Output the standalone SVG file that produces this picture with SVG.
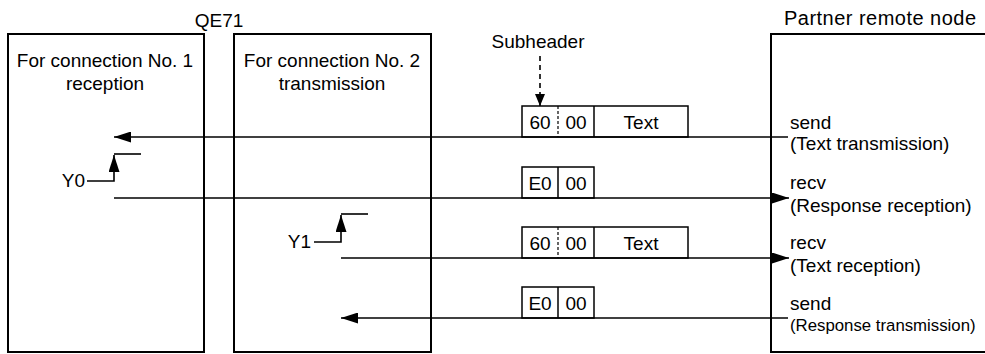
<svg xmlns="http://www.w3.org/2000/svg" width="985" height="354" viewBox="0 0 985 354">
<style>
text{font-family:"Liberation Sans",Arial,sans-serif;font-size:19px;fill:#000}
.c{text-anchor:middle}
.box{fill:none;stroke:#000;stroke-width:2}
.pk{fill:none;stroke:#000;stroke-width:1.5}
.ln{fill:none;stroke:#000;stroke-width:1.6}
.dv{stroke:#000;stroke-width:1.2;stroke-dasharray:3,2}
</style>
<defs>
<marker id="ah" viewBox="0 0 17 11" refX="17" refY="5.5" markerWidth="17" markerHeight="11" markerUnits="userSpaceOnUse" orient="auto">
<path d="M0,0 L17,5.5 L0,11 Z" fill="#000"/>
</marker>
<marker id="ahs" viewBox="0 0 12 10" refX="12" refY="5" markerWidth="12" markerHeight="10" markerUnits="userSpaceOnUse" orient="auto">
<path d="M0,0 L12,5 L0,10 Z" fill="#000"/>
</marker>
</defs>
<text class="c" x="219" y="27">QE71</text>
<text class="c" x="880" y="25" style="font-size:20px" textLength="192" lengthAdjust="spacing">Partner remote node</text>
<g id="conn1">
<rect class="box" x="8" y="34" width="196" height="318"/>
<text class="c" x="105" y="67">For connection No. 1</text>
<text class="c" x="105" y="90">reception</text>
</g>
<g id="conn2">
<rect class="box" x="234" y="34" width="197" height="318"/>
<text class="c" x="332" y="67">For connection No. 2</text>
<text class="c" x="332" y="90">transmission</text>
</g>
<g id="partner">
<path class="box" d="M986,34 H771 V352 H986"/>
<text x="790" y="129">send</text>
<text x="790" y="150">(Text transmission)</text>
<text x="790" y="189">recv</text>
<text x="790" y="212">(Response reception)</text>
<text x="790" y="249">recv</text>
<text x="790" y="272">(Text reception)</text>
<text x="790" y="310">send</text>
<text x="790" y="331" style="font-size:16.8px">(Response transmission)</text>
</g>
<g id="subheader">
<text class="c" x="538" y="48">Subheader</text>
<line x1="540" y1="56" x2="540" y2="106" stroke="#000" stroke-width="1.6" stroke-dasharray="5,4" marker-end="url(#ahs)"/>
</g>
<g id="packet1">
<rect class="pk" x="522" y="106" width="166" height="31"/>
<line class="dv" x1="558" y1="106" x2="558" y2="137"/>
<line class="pk" x1="594" y1="106" x2="594" y2="137"/>
<text class="c" x="540" y="129">60</text>
<text class="c" x="576" y="129">00</text>
<text class="c" x="641" y="129">Text</text>
</g>
<g id="packet2">
<rect class="pk" x="522" y="167" width="72" height="31"/>
<line class="pk" x1="558" y1="167" x2="558" y2="198"/>
<text class="c" x="540" y="190">E0</text>
<text class="c" x="576" y="190">00</text>
</g>
<g id="packet3">
<rect class="pk" x="522" y="227" width="166" height="31"/>
<line class="dv" x1="558" y1="227" x2="558" y2="258"/>
<line class="pk" x1="594" y1="227" x2="594" y2="258"/>
<text class="c" x="540" y="250">60</text>
<text class="c" x="576" y="250">00</text>
<text class="c" x="641" y="250">Text</text>
</g>
<g id="packet4">
<rect class="pk" x="522" y="287" width="72" height="31"/>
<line class="pk" x1="558" y1="287" x2="558" y2="318"/>
<text class="c" x="540" y="310">E0</text>
<text class="c" x="576" y="310">00</text>
</g>
<g id="y0">
<text x="85" y="187" text-anchor="end">Y0</text>
<path class="ln" d="M87,181 H114 V155" marker-end="url(#ah)"/>
<line class="ln" x1="114" y1="154" x2="141" y2="154"/>
</g>
<g id="y1">
<text x="311" y="248" text-anchor="end">Y1</text>
<path class="ln" d="M314,242 H341 V215" marker-end="url(#ah)"/>
<line class="ln" x1="341" y1="214" x2="368" y2="214"/>
</g>
<g id="connectors">
<line class="ln" x1="788" y1="137" x2="114" y2="137" marker-end="url(#ah)"/>
<line class="ln" x1="114" y1="198" x2="789" y2="198" marker-end="url(#ah)"/>
<line class="ln" x1="341" y1="258" x2="789" y2="258" marker-end="url(#ah)"/>
<line class="ln" x1="788" y1="318" x2="341" y2="318" marker-end="url(#ah)"/>
</g>
</svg>
